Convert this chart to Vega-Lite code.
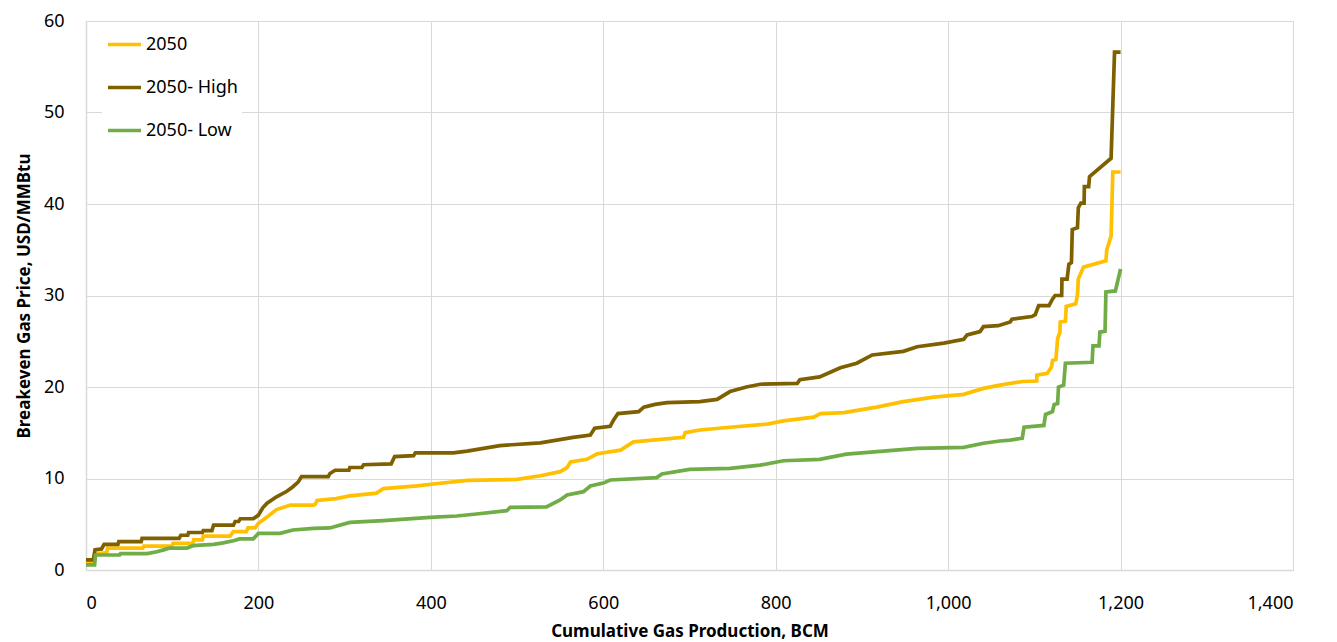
{
  "$schema": "https://vega.github.io/schema/vega-lite/v6.json",
  "width": 1207,
  "height": 549,
  "autosize": "none",
  "padding": {"left": 86, "top": 21, "right": 44, "bottom": 72},
  "background": "white",
  "config": {"view": {"stroke": null}, "font": "Noto Sans"},
  "datasets": {
    "high": [
      {"x":0,"y":1.1},{"x":8.5,"y":1.1},{"x":10.4,"y":2.2},{"x":18,"y":2.3},{"x":21,"y":2.8},{"x":37,"y":2.8},{"x":38,"y":3.1},{"x":64,"y":3.1},{"x":65,"y":3.45},{"x":108,"y":3.45},{"x":110,"y":3.8},{"x":118,"y":3.8},{"x":119,"y":4.1},{"x":135,"y":4.1},{"x":136,"y":4.3},{"x":146,"y":4.3},{"x":148,"y":4.9},{"x":171,"y":4.9},{"x":173,"y":5.3},{"x":177,"y":5.3},{"x":179,"y":5.6},{"x":194,"y":5.6},{"x":200,"y":6.0},{"x":205,"y":6.8},{"x":210,"y":7.3},{"x":221,"y":8.0},{"x":233,"y":8.6},{"x":240,"y":9.1},{"x":246,"y":9.6},{"x":250,"y":10.2},{"x":281,"y":10.2},{"x":283,"y":10.55},{"x":289,"y":10.9},{"x":305,"y":10.9},{"x":306,"y":11.2},{"x":320,"y":11.2},{"x":322,"y":11.5},{"x":354,"y":11.6},{"x":358,"y":12.4},{"x":380,"y":12.5},{"x":382,"y":12.8},{"x":426,"y":12.8},{"x":442,"y":13.0},{"x":480,"y":13.6},{"x":527,"y":13.9},{"x":565,"y":14.5},{"x":585,"y":14.75},{"x":590,"y":15.5},{"x":608,"y":15.7},{"x":612,"y":16.4},{"x":617,"y":17.1},{"x":641,"y":17.3},{"x":647,"y":17.8},{"x":660,"y":18.1},{"x":674,"y":18.3},{"x":712,"y":18.4},{"x":732,"y":18.65},{"x":747,"y":19.5},{"x":766,"y":20.0},{"x":782,"y":20.3},{"x":825,"y":20.4},{"x":828,"y":20.8},{"x":851,"y":21.1},{"x":875,"y":22.1},{"x":894,"y":22.6},{"x":912,"y":23.5},{"x":948,"y":23.9},{"x":964,"y":24.4},{"x":995,"y":24.8},{"x":1018,"y":25.2},{"x":1022,"y":25.7},{"x":1037,"y":26.05},{"x":1041,"y":26.6},{"x":1058,"y":26.7},{"x":1072,"y":27.1},{"x":1074,"y":27.4},{"x":1097,"y":27.7},{"x":1101,"y":27.9},{"x":1105,"y":28.9},{"x":1117,"y":28.9},{"x":1121,"y":29.6},{"x":1124,"y":30.0},{"x":1131.7,"y":30.0},{"x":1132,"y":31.8},{"x":1138,"y":31.8},{"x":1140,"y":33.4},{"x":1143,"y":33.6},{"x":1144,"y":37.2},{"x":1150,"y":37.4},{"x":1151,"y":39.6},{"x":1154,"y":40.1},{"x":1157.7,"y":40.1},{"x":1158,"y":41.9},{"x":1163,"y":41.9},{"x":1164,"y":43.0},{"x":1189,"y":45.0},{"x":1193,"y":56.6},{"x":1200,"y":56.6}
    ],
    "base": [
      {"x":0,"y":0.9},{"x":8,"y":0.9},{"x":10,"y":1.7},{"x":24,"y":1.9},{"x":25,"y":2.4},{"x":66,"y":2.4},{"x":67,"y":2.6},{"x":100,"y":2.6},{"x":101,"y":2.9},{"x":124,"y":2.9},{"x":125,"y":3.3},{"x":135,"y":3.3},{"x":136,"y":3.7},{"x":167,"y":3.7},{"x":171,"y":4.2},{"x":186,"y":4.2},{"x":188,"y":4.6},{"x":196,"y":4.6},{"x":200,"y":5.1},{"x":210,"y":5.8},{"x":221,"y":6.6},{"x":237,"y":7.1},{"x":264,"y":7.1},{"x":266,"y":7.2},{"x":268,"y":7.6},{"x":290,"y":7.8},{"x":306,"y":8.1},{"x":337,"y":8.4},{"x":345,"y":8.9},{"x":384,"y":9.2},{"x":403,"y":9.4},{"x":442,"y":9.8},{"x":500,"y":9.9},{"x":527,"y":10.3},{"x":550,"y":10.75},{"x":558,"y":11.2},{"x":562,"y":11.8},{"x":581,"y":12.1},{"x":593,"y":12.7},{"x":620,"y":13.1},{"x":635,"y":14.0},{"x":693,"y":14.5},{"x":695,"y":15.0},{"x":712,"y":15.3},{"x":747,"y":15.6},{"x":790,"y":15.95},{"x":809,"y":16.3},{"x":844,"y":16.7},{"x":852,"y":17.1},{"x":879,"y":17.2},{"x":917,"y":17.8},{"x":948,"y":18.4},{"x":983,"y":18.9},{"x":1018,"y":19.2},{"x":1041,"y":19.85},{"x":1060,"y":20.2},{"x":1086,"y":20.6},{"x":1102.7,"y":20.65},{"x":1103,"y":21.3},{"x":1115,"y":21.5},{"x":1120,"y":22.2},{"x":1121,"y":22.9},{"x":1125,"y":23.0},{"x":1127,"y":25.3},{"x":1129.7,"y":26.0},{"x":1130,"y":27.1},{"x":1136,"y":27.2},{"x":1137,"y":28.8},{"x":1148,"y":29.1},{"x":1150,"y":30.1},{"x":1151,"y":31.8},{"x":1157,"y":33.1},{"x":1183,"y":33.8},{"x":1184,"y":35.0},{"x":1189,"y":36.5},{"x":1191,"y":43.5},{"x":1200,"y":43.5}
    ],
    "low": [
      {"x":0,"y":0.55},{"x":10,"y":0.55},{"x":11,"y":1.64},{"x":39,"y":1.64},{"x":40,"y":1.8},{"x":71,"y":1.8},{"x":82,"y":2.0},{"x":90,"y":2.2},{"x":97,"y":2.4},{"x":117,"y":2.4},{"x":124,"y":2.66},{"x":148,"y":2.8},{"x":159,"y":2.97},{"x":171,"y":3.2},{"x":178,"y":3.4},{"x":194,"y":3.4},{"x":200,"y":4.0},{"x":225,"y":4.0},{"x":240,"y":4.37},{"x":264,"y":4.55},{"x":283,"y":4.6},{"x":291,"y":4.81},{"x":306,"y":5.2},{"x":345,"y":5.4},{"x":399,"y":5.76},{"x":430,"y":5.9},{"x":453,"y":6.12},{"x":488,"y":6.48},{"x":492,"y":6.85},{"x":534,"y":6.9},{"x":550,"y":7.65},{"x":558,"y":8.2},{"x":577,"y":8.56},{"x":585,"y":9.18},{"x":600,"y":9.5},{"x":608,"y":9.84},{"x":662,"y":10.1},{"x":668,"y":10.5},{"x":700,"y":11.0},{"x":747,"y":11.1},{"x":782,"y":11.46},{"x":809,"y":11.94},{"x":851,"y":12.09},{"x":882,"y":12.67},{"x":964,"y":13.3},{"x":1018,"y":13.4},{"x":1041,"y":13.85},{"x":1060,"y":14.1},{"x":1072,"y":14.2},{"x":1086,"y":14.4},{"x":1088,"y":15.6},{"x":1111,"y":15.8},{"x":1113,"y":17.0},{"x":1121,"y":17.3},{"x":1123,"y":18.1},{"x":1127,"y":18.2},{"x":1128,"y":20.0},{"x":1134,"y":20.2},{"x":1136,"y":22.6},{"x":1167,"y":22.7},{"x":1168,"y":24.5},{"x":1175,"y":24.5},{"x":1176,"y":26.0},{"x":1182,"y":26.1},{"x":1183,"y":30.4},{"x":1194,"y":30.5},{"x":1200,"y":32.9}
    ]
  },
  "layer": [
    {
      "data": {"name": "base"},
      "transform": [{"calculate": "'2050'", "as": "s"}],
      "mark": {"type": "line", "strokeWidth": 3.7, "strokeCap": "butt"},
      "encoding": {
        "x": {"field": "x", "type": "quantitative", "scale": {"domain": [0, 1400], "nice": false},
          "axis": {"values": [0,200,400,600,800,1000,1200,1400], "format": ",d", "title": "Cumulative Gas Production, BCM",
            "grid": true, "gridColor": "#d9d9d9", "gridWidth": 1, "domainColor": "#d9d9d9", "domainWidth": 1.5, "ticks": false,
            "labelPadding": 24, "labelFontSize": 18, "labelColor": "#000000", "labelFont": "Noto Sans",
            "titleFontSize": 17, "titleFontWeight": "bold", "titleColor": "#000000", "titlePadding": 11, "titleFont": "Noto Sans"}},
        "y": {"field": "y", "type": "quantitative", "scale": {"domain": [0, 60], "nice": false},
          "axis": {"values": [0,10,20,30,40,50,60], "title": "Breakeven Gas Price, USD/MMBtu",
            "grid": true, "gridColor": "#d9d9d9", "gridWidth": 1, "domainColor": "#d9d9d9", "domainWidth": 1.5, "ticks": false,
            "labelPadding": 22, "labelFontSize": 18, "labelColor": "#000000", "labelFont": "Noto Sans",
            "titleFontSize": 17, "titleFontWeight": "bold", "titleColor": "#000000", "titlePadding": 10, "titleFont": "Noto Sans"}},
        "color": {"field": "s", "type": "nominal",
          "scale": {"domain": ["2050", "2050- High", "2050- Low"], "range": ["#FFC000", "#7F6000", "#70AD47"]},
          "legend": {"orient": "none", "legendX": 16, "legendY": 1, "title": null, "fillColor": "white", "padding": 4,
            "symbolType": "stroke", "symbolSize": 1089, "symbolStrokeWidth": 3.7, "labelFontSize": 18, "labelColor": "#000000",
            "labelFont": "Noto Sans", "labelOffset": 3, "rowPadding": 15}}
      }
    },
    {
      "data": {"name": "high"},
      "transform": [{"calculate": "'2050- High'", "as": "s"}],
      "mark": {"type": "line", "strokeWidth": 3.7, "strokeCap": "butt"},
      "encoding": {
        "x": {"field": "x", "type": "quantitative"},
        "y": {"field": "y", "type": "quantitative"},
        "color": {"field": "s", "type": "nominal"}
      }
    },
    {
      "data": {"name": "low"},
      "transform": [{"calculate": "'2050- Low'", "as": "s"}],
      "mark": {"type": "line", "strokeWidth": 3.7, "strokeCap": "butt"},
      "encoding": {
        "x": {"field": "x", "type": "quantitative"},
        "y": {"field": "y", "type": "quantitative"},
        "color": {"field": "s", "type": "nominal"}
      }
    }
  ]
}
